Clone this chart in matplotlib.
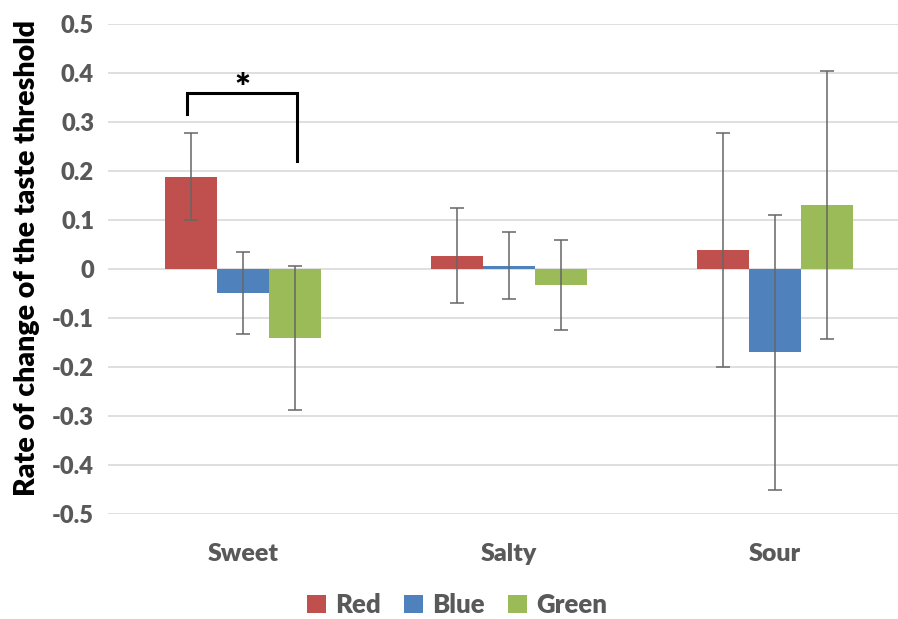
import matplotlib
matplotlib.use("Agg")
import matplotlib.pyplot as plt
from matplotlib.patches import Patch
import numpy as np

categories = ["Sweet", "Salty", "Sour"]
series_names = ["Red", "Blue", "Green"]
red_vals = [0.188, 0.027, 0.039]
blue_vals = [-0.049, 0.007, -0.170]
green_vals = [-0.141, -0.033, 0.131]
red_err = [0.089, 0.097, 0.238]
blue_err = [0.084, 0.069, 0.281]
green_err = [0.147, 0.092, 0.274]
colors = ["#C0504D", "#4F81BD", "#9BBB59"]
yticks = [0.5, 0.4, 0.3, 0.2, 0.1, 0, -0.1, -0.2, -0.3, -0.4, -0.5]
ytick_labels = ["0.5", "0.4", "0.3", "0.2", "0.1", "0", "-0.1", "-0.2", "-0.3", "-0.4", "-0.5"]

plt.rcParams['font.family'] = ['Lato', 'DejaVu Sans']
W = 'heavy'

fig = plt.figure(figsize=(8.98, 6.19), dpi=100)
ax = fig.add_axes([108/898, (619-514)/619, 1 - 108/898, (514-24)/619])

x = np.arange(len(categories))
w = 0.195
vals = [red_vals, blue_vals, green_vals]
errs = [red_err, blue_err, green_err]
for i, (v, e, c) in enumerate(zip(vals, errs, colors)):
    pos = x + (i - 1) * w
    ax.bar(pos, v, width=w, color=c, zorder=2, edgecolor='none')
    ax.errorbar(pos, v, yerr=e, fmt='none', ecolor='#666666', elinewidth=1.1,
                capsize=5, capthick=1.1, zorder=3)

ax.set_xlim(-0.507, 2.462)
ax.set_ylim(-0.5, 0.5)
ax.set_yticks(yticks)
ax.set_yticklabels(ytick_labels, fontsize=17, fontweight=W, color='#595959')
ax.set_xticks(x)
ax.set_xticklabels(categories, fontsize=18, fontweight=W, color='#595959')
ax.tick_params(axis='both', length=0)
ax.tick_params(axis='x', pad=21)
ax.tick_params(axis='y', pad=10)
for s in ax.spines.values():
    s.set_visible(False)
ax.grid(axis='y', color='#d9d9d9', linewidth=1.2, zorder=0)
ax.set_axisbelow(True)
fig.text(27/898, 1 - 258/619, "Rate of change of the taste threshold", rotation=90,
         ha='center', va='center', fontsize=20.5, fontweight=W, color='black')

# significance bracket
bx = [-0.21, -0.21, 0.205, 0.205]
by = [0.316, 0.359, 0.359, 0.22]
ax.plot(bx, by, color='black', linewidth=2.2, solid_joinstyle='miter', zorder=4, clip_on=False)
ax.text(0.0, 0.345, "*", ha='center', va='baseline', fontsize=27, fontweight=W, color='black')

handles = [Patch(facecolor=c, edgecolor='none') for c in colors]
fig.legend(handles, series_names, loc='center', bbox_to_anchor=(457/898, 1 - 605/619),
           ncol=3, frameon=False, handlelength=0.75, handleheight=0.75, handletextpad=0.35,
           columnspacing=0.9, prop={'family': 'Lato', 'weight': W, 'size': 18.5})
for t in fig.legends[0].get_texts():
    t.set_color('#595959')

fig.savefig("out.png", dpi=100)
